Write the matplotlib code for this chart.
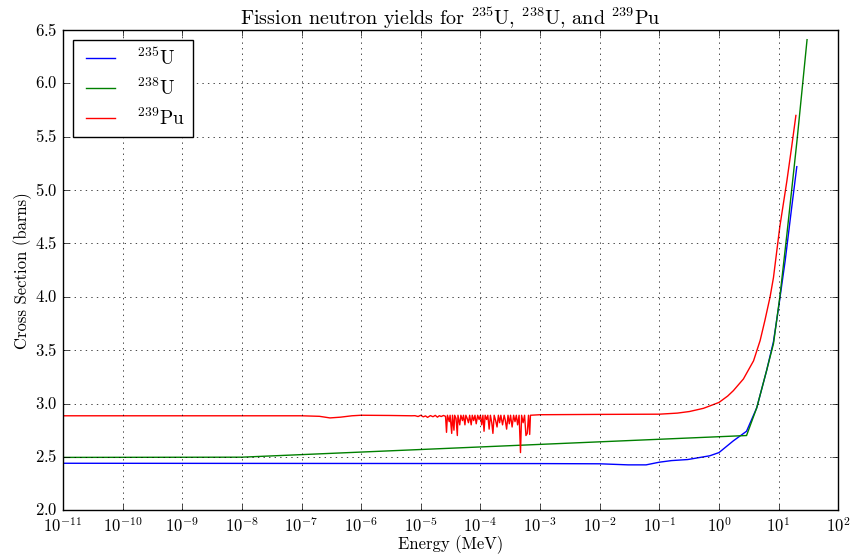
import matplotlib
matplotlib.use("Agg")
import matplotlib.pyplot as plt

# nu-bar vs incident neutron energy (MeV)
u235_energy = [1e-11, 1e-3, 1e-2, 3e-2, 6e-2, 0.1, 0.16, 0.3, 0.7, 1.0, 1.74,
               2.9, 4.3, 6.3, 8.2, 10.0, 12.9, 16.6, 20.2]
u235_nu = [2.440, 2.437, 2.435, 2.425, 2.425, 2.450, 2.465, 2.475, 2.510, 2.540,
           2.650, 2.740, 2.960, 3.310, 3.580, 3.900, 4.340, 4.840, 5.220]

u238_energy = [1e-11, 1e-8, 2.9, 4.3, 6.3, 8.2, 10.5, 13.8, 20.4, 30.0]
u238_nu = [2.495, 2.497, 2.700, 2.960, 3.310, 3.560, 4.000, 4.590, 5.470, 6.410]

pu239_energy = [1e-11, 1e-7, 2e-7, 3e-7, 4.5e-7, 7e-7, 1e-6, 3e-6, 7e-6,
                # resolved resonance region
                8.0e-6, 9.0e-6, 1.0e-5, 1.1e-5, 1.2e-5, 1.3e-5, 1.45e-5, 1.6e-5,
                1.75e-5, 1.9e-5, 2.05e-5, 2.2e-5, 2.4e-5, 2.6e-5, 2.7e-5, 2.8e-5,
                3.0e-5, 3.1e-5, 3.3e-5, 3.4e-5, 3.6e-5, 3.7e-5, 3.9e-5, 4.1e-5,
                4.2e-5, 4.5e-5, 4.7e-5, 5.0e-5, 5.2e-5, 5.5e-5, 5.7e-5, 6.0e-5,
                6.3e-5, 6.6e-5, 7.0e-5, 7.3e-5, 7.7e-5, 8.1e-5, 8.5e-5, 9.0e-5,
                9.5e-5, 1.0e-4, 1.05e-4, 1.1e-4, 1.15e-4, 1.2e-4, 1.27e-4, 1.33e-4,
                1.4e-4, 1.47e-4, 1.55e-4, 1.62e-4, 1.7e-4, 1.8e-4, 1.9e-4, 2.0e-4,
                2.1e-4, 2.2e-4, 2.35e-4, 2.5e-4, 2.6e-4, 2.75e-4, 2.9e-4, 3.05e-4,
                3.2e-4, 3.4e-4, 3.6e-4, 3.8e-4, 4.0e-4, 4.2e-4, 4.45e-4, 4.7e-4,
                4.9e-4, 5.2e-4, 5.5e-4, 5.8e-4, 6.1e-4, 6.4e-4, 6.7e-4, 6.9e-4,
                # unresolved / fast region
                1e-3, 1e-2, 0.1, 0.2, 0.32, 0.55, 1.0, 1.4, 1.74, 2.57, 3.8,
                4.9, 5.9, 7.2, 8.2, 10.5, 13.8, 16.6, 19.5]
pu239_nu = [2.885, 2.885, 2.880, 2.865, 2.872, 2.885, 2.890, 2.888, 2.885,
            2.886, 2.878, 2.890, 2.875, 2.884, 2.870, 2.887, 2.876,
            2.889, 2.872, 2.886, 2.878, 2.888, 2.880, 2.730, 2.890,
            2.830, 2.890, 2.720, 2.890, 2.750, 2.890, 2.860, 2.700,
            2.890, 2.800, 2.890, 2.840, 2.890, 2.800, 2.890, 2.860,
            2.820, 2.890, 2.800, 2.890, 2.840, 2.890, 2.810, 2.890,
            2.850, 2.890, 2.800, 2.890, 2.740, 2.890, 2.850, 2.890,
            2.760, 2.890, 2.820, 2.720, 2.890, 2.840, 2.780, 2.890,
            2.820, 2.890, 2.800, 2.890, 2.850, 2.760, 2.890, 2.810,
            2.890, 2.780, 2.890, 2.830, 2.890, 2.800, 2.890, 2.540,
            2.890, 2.820, 2.890, 2.700, 2.720, 2.890, 2.710, 2.890,
            2.895, 2.898, 2.900, 2.910, 2.925, 2.955, 3.010, 3.070, 3.120,
            3.230, 3.400, 3.590, 3.780, 4.000, 4.180, 4.660, 5.090, 5.410, 5.700]

plt.style.use("classic")
plt.rcParams["font.family"] = "cmr10"
plt.rcParams["mathtext.fontset"] = "cm"
plt.rcParams["axes.formatter.use_mathtext"] = True
plt.rcParams["axes.unicode_minus"] = False

fig = plt.figure(figsize=(8.51, 5.57), dpi=100)
fig.subplots_adjust(left=0.074, right=0.985, bottom=0.084, top=0.946)
ax = fig.add_subplot(111)

ax.semilogx(u235_energy, u235_nu, color="b", lw=1, label=r"$^{235}$U")
ax.semilogx(u238_energy, u238_nu, color="g", lw=1, label=r"$^{238}$U")
ax.semilogx(pu239_energy, pu239_nu, color="r", lw=1, label=r"$^{239}$Pu")

ax.set_xlim(1e-11, 1e2)
ax.set_ylim(2.0, 6.5)
ax.grid(True)
ax.tick_params(labelsize=12)

ax.set_title(r"Fission neutron yields for $^{235}$U, $^{238}$U, and $^{239}$Pu",
             fontsize=14.5, pad=4)
ax.set_xlabel("Energy (MeV)", fontsize=12, labelpad=0)
ax.set_ylabel("Cross Section (barns)", fontsize=12, labelpad=2)
ax.legend(loc="upper left", fontsize=14, handlelength=2.1, labelspacing=0.45)

fig.savefig("out.png", dpi=100)
